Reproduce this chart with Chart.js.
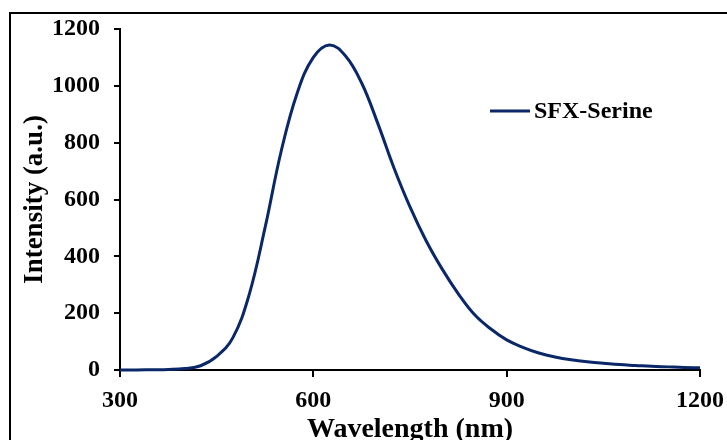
<!DOCTYPE html>
<html>
<head>
<meta charset="utf-8">
<script src="https://cdn.jsdelivr.net/npm/chart.js@4"></script>
<style>
  html, body { margin: 0; padding: 0; background: #fff; }
  #wrap { width: 727px; height: 440px; }
</style>
</head>
<body>
<div id="wrap"><canvas id="Espectro" width="727" height="440"></canvas></div>
<script>
// emission spectrum, every 25 nm
var wavelengths = [300, 325, 350, 375, 400, 425, 450, 475, 500, 525, 550, 575, 600, 625, 650, 675, 700, 725, 750, 775, 800, 825, 850, 875, 900, 925, 950, 975, 1000, 1025, 1050, 1075, 1100, 1125, 1150, 1175, 1200];
var intensities = [0, 0, 1, 2, 5, 15, 48, 113, 262, 500, 769, 975, 1100, 1144, 1105, 1010, 868, 712, 574, 455, 355, 268, 195, 145, 106, 80, 60, 46, 36, 29, 24, 19, 16, 13, 11, 9, 8];
var serieLabel = 'SFX-Serine';
var xTicks = [300, 600, 900, 1200];
var yTicks = [0, 200, 400, 600, 800, 1000, 1200];

var fuente = 'Liberation Serif, Times New Roman, serif';
var colorLinea = '#0a2868';

// marco exterior (solo se ven los lados izquierdo y superior)
var marco = {
    id: 'marco',
    beforeDraw: function(chart) {
        var ctx = chart.ctx;
        ctx.save();
        ctx.strokeStyle = '#000';
        ctx.lineWidth = 2;
        ctx.strokeRect(10, 13, 900, 600);
        ctx.restore();
    }
};

// leyenda dentro del area del grafico
var leyenda = {
    id: 'leyenda',
    afterDraw: function(chart) {
        var ctx = chart.ctx;
        var ds = chart.data.datasets[0];
        ctx.save();
        ctx.strokeStyle = ds.borderColor;
        ctx.lineWidth = 3;
        ctx.beginPath();
        ctx.moveTo(490, 111);
        ctx.lineTo(530, 111);
        ctx.stroke();
        ctx.fillStyle = '#000';
        ctx.font = 'bold 24px ' + fuente;
        ctx.textBaseline = 'middle';
        ctx.fillText(ds.label, 534, 112);
        ctx.restore();
    }
};

var ctx = document.getElementById('Espectro');
var chart = new Chart(ctx, {
    type: 'line',
    data: {
        datasets: [{
            label: serieLabel,
            data: wavelengths.map(function(w, i) { return { x: w, y: intensities[i] }; }),
            borderColor: colorLinea,
            borderWidth: 3,
            pointRadius: 0,
            tension: 0.4,
            fill: false,
            clip: false
        }]
    },
    options: {
        responsive: false,
        animation: false,
        layout: { padding: { top: 29, right: 27, left: 0, bottom: 0 } },
        plugins: {
            legend: { display: false },
            tooltip: { enabled: false }
        },
        scales: {
            x: {
                type: 'linear',
                min: 300,
                max: 1200,
                afterFit: function(scale) {
                    scale.height = 70;
                    scale.paddingLeft = 0;
                    scale.paddingRight = 0;
                },
                afterBuildTicks: function(scale) {
                    scale.ticks = xTicks.map(function(v) { return { value: v }; });
                },
                ticks: {
                    color: '#000',
                    padding: 9,
                    maxRotation: 0,
                    callback: function(v) { return String(v); },
                    font: { family: fuente, size: 24, weight: 'bold' }
                },
                grid: {
                    drawOnChartArea: false,
                    drawTicks: true,
                    tickLength: 7,
                    color: '#000',
                    lineWidth: 2
                },
                border: { display: true, color: '#000', width: 2 },
                title: {
                    display: true,
                    text: 'Wavelength (nm)',
                    color: '#000',
                    padding: { top: 0, bottom: -7 },
                    font: { family: fuente, size: 28, weight: 'bold' }
                }
            },
            y: {
                min: 0,
                max: 1200,
                afterFit: function(scale) { scale.width = 120; },
                afterBuildTicks: function(scale) {
                    scale.ticks = yTicks.map(function(v) { return { value: v }; });
                },
                ticks: {
                    color: '#000',
                    padding: 14,
                    callback: function(v) { return String(v); },
                    font: { family: fuente, size: 24, weight: 'bold' }
                },
                grid: {
                    drawOnChartArea: false,
                    drawTicks: true,
                    tickLength: 6,
                    color: '#000',
                    lineWidth: 2
                },
                border: { display: true, color: '#000', width: 2 },
                title: {
                    display: true,
                    text: 'Intensity (a.u.)',
                    color: '#000',
                    padding: { top: 19, bottom: 0 },
                    font: { family: fuente, size: 27, weight: 'bold' }
                }
            }
        }
    },
    plugins: [marco, leyenda]
});
</script>
</body>
</html>
